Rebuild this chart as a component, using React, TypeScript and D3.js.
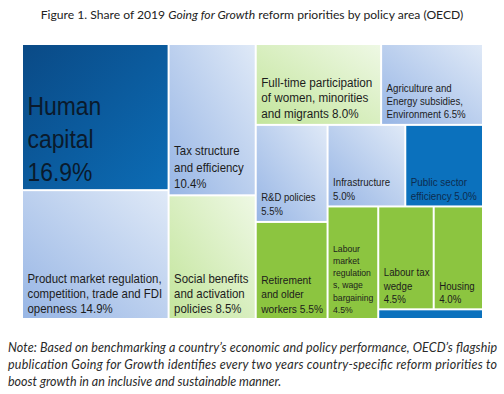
import React, { useRef, useLayoutEffect } from 'react';
import * as d3 from 'd3';

// share of 2019 Going for Growth priorities, % (order = reading order of the tiles)
const categories = [
  'Human capital',
  'Product market regulation, competition, trade and FDI openness',
  'Tax structure and efficiency',
  'Social benefits and activation policies',
  'Full-time participation of women, minorities and migrants',
  'Agriculture and Energy subsidies, Environment',
  'R&D policies',
  'Retirement and older workers',
  'Infrastructure',
  'Public sector efficiency',
  'Labour market regulations, wage bargaining',
  'Labour tax wedge',
  'Housing',
  'Other',
];
const shares = [16.9, 14.9, 10.4, 8.5, 8.0, 6.5, 5.5, 5.5, 5.0, 5.0, 4.5, 4.5, 4.0, 0.8];

// label text as it is wrapped in the figure
const labelLines = [
  ['Human', 'capital', '16.9%'],
  ['Product market regulation,', 'competition, trade and FDI', 'openness 14.9%'],
  ['Tax structure', 'and efficiency', '10.4%'],
  ['Social benefits', 'and activation', 'policies 8.5%'],
  ['Full-time participation', 'of women, minorities', 'and migrants 8.0%'],
  ['Agriculture and', 'Energy subsidies,', 'Environment 6.5%'],
  ['R&D policies', '5.5%'],
  ['Retirement', 'and older', 'workers 5.5%'],
  ['Infrastructure', '5.0%'],
  ['Public sector', 'efficiency 5.0%'],
  ['Labour', 'market', 'regulation', 's, wage', 'bargaining', '4.5%'],
  ['Labour tax', 'wedge', '4.5%'],
  ['Housing', '4.0%'],
  [],
];

const title = 'Figure 1. Share of 2019 ';
const titleItalic = 'Going for Growth';
const titleEnd = ' reform priorities by policy area (OECD)';
const noteLines = [
  'Note: Based on benchmarking a country\u2019s economic and policy performance, OECD\u2019s flagship',
  'publication Going for Growth identifies every two years country-specific reform priorities to',
  'boost growth in an inclusive and sustainable manner.',
];

// how the tiles are grouped: size of each strip and its direction
const strips: [number, 'col' | 'row'][] = [
  [2, 'col'], [2, 'col'], [2, 'row'], [2, 'col'], [2, 'row'], [1, 'col'], [2, 'row'], [1, 'row'],
];

// fill, font size, line height, bottom gap
const tileStyle: [string, number, number, number][] = [
  ['url(#gDark)', 26, 33, 8],
  ['url(#gBlue)', 13, 15, 5],
  ['url(#gBlue)', 13, 16.5, 6],
  ['url(#gGreen)', 13, 15, 5],
  ['url(#gGreen)', 13.3, 15.5, 6],
  ['url(#gBlue)', 11, 13, 6],
  ['url(#gBlue)', 10.8, 14, 6],
  ['#8cc540', 11.6, 14.5, 5],
  ['url(#gBlue)', 11, 13.5, 5.5],
  ['#0b71bd', 11.2, 13.5, 5.5],
  ['#8cc540', 9.8, 12.3, 5],
  ['#8cc540', 11, 13.5, 5],
  ['#8cc540', 11, 13.5, 5],
  ['#0b71bd', 10, 12, 5],
];

const box = { x: 23, y: 45, w: 459, h: 273 };
const titleWidth = 423;

function stripTile(parent: any, x0: number, y0: number, x1: number, y1: number) {
  const kids = parent.children;
  let i = 0;
  let rest = parent.value;
  for (const [n, dir] of strips) {
    const part = kids.slice(i, i + n);
    i += n;
    if (!part.length) break;
    const v = d3.sum(part, (d: any) => d.value);
    const strip = { children: part, value: v };
    if (dir === 'col') {
      const w = rest ? ((x1 - x0) * v) / rest : 0;
      d3.treemapSlice(strip as any, x0, y0, x0 + w, y1);
      x0 += w;
    } else {
      const h = rest ? ((y1 - y0) * v) / rest : 0;
      d3.treemapDice(strip as any, x0, y0, x1, y0 + h);
      y0 += h;
    }
    rest -= v;
  }
}

export default function App() {
  const titleRef = useRef<SVGTextElement>(null);

  useLayoutEffect(() => {
    // fit the title to the width it has in the figure
    const t = titleRef.current;
    if (!t) return;
    const len = t.getComputedTextLength();
    if (len > 0) t.setAttribute('font-size', String((13.5 * titleWidth) / len));
  }, []);

  const root = d3
    .hierarchy({ children: categories.map((c, i) => ({ name: c, value: shares[i], idx: i })) } as any)
    .sum((d: any) => d.value || 0);
  d3.treemap().size([box.w, box.h]).paddingInner(2).tile(stripTile as any)(root as any);
  const leaves = root.leaves() as any[];

  return (
    <svg width={504} height={394} style={{ position: 'absolute', left: 0, top: 0, background: '#fff' }}>
      <defs>
        <linearGradient id="gBlue" x1="0" y1="1" x2="1" y2="0">
          <stop offset="0" stopColor="#98b6e5" />
          <stop offset="1" stopColor="#dfe9f7" />
        </linearGradient>
        <linearGradient id="gGreen" x1="0" y1="1" x2="1" y2="0">
          <stop offset="0" stopColor="#c3e59c" />
          <stop offset="1" stopColor="#eef8e4" />
        </linearGradient>
        <linearGradient id="gDark" x1="0" y1="0" x2="1" y2="1">
          <stop offset="0" stopColor="#0a4a86" />
          <stop offset="1" stopColor="#0c6cb5" />
        </linearGradient>
      </defs>

      <text ref={titleRef} x={252} y={19} textAnchor="middle" fontFamily="Lato, 'Open Sans', sans-serif"
        fontSize={13.5} fill="#222">
        {title}<tspan fontStyle="italic">{titleItalic}</tspan>{titleEnd}
      </text>

      <g transform={`translate(${box.x},${box.y})`}>
        {leaves.map((d) => {
          const i = d.data.idx;
          const [fill, fs, lh, gap] = tileStyle[i];
          const lines = labelLines[i];
          const baseY = d.y1 - gap - (lines.length - 1) * lh;
          const color = i === 0 ? '#0a1a2c' : i === 9 ? '#0d2c4f' : '#1c1c1c';
          return (
            <g key={i}>
              <rect x={d.x0} y={d.y0} width={d.x1 - d.x0} height={d.y1 - d.y0} fill={fill} />
              {lines.length > 0 && (
                <text transform={`translate(${d.x0 + 4.5},${baseY}) scale(0.88,1)`}
                  fontFamily="'Liberation Sans', Arial, sans-serif" fontSize={fs} fill={color}>
                  {lines.map((l, k) => (
                    <tspan key={k} x={0} y={k * lh}>{l}</tspan>
                  ))}
                </text>
              )}
            </g>
          );
        })}
      </g>

      {noteLines.map((l, k) => (
        <text key={k} x={8} y={352 + k * 17} fontFamily="Lato, 'Open Sans', sans-serif" fontStyle="italic"
          fontSize={12.5} fill="#2a2a2a"
          {...(k < 2 ? { textLength: 489, lengthAdjust: 'spacing' } : {})}>
          {l}
        </text>
      ))}
    </svg>
  );
}
